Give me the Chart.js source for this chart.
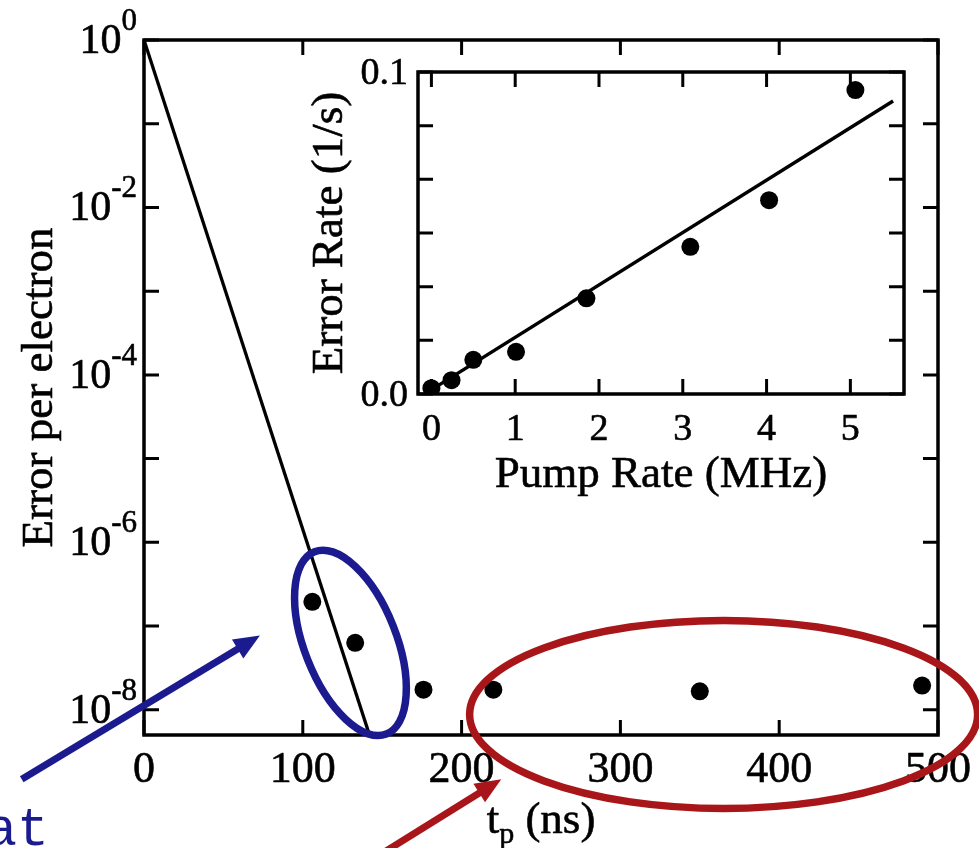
<!DOCTYPE html>
<html>
<head>
<meta charset="utf-8">
<script src="https://cdn.jsdelivr.net/npm/chart.js@4.4.0/dist/chart.umd.min.js"></script>
<style>
  html, body { margin: 0; padding: 0; background: #fff; }
  #wrap { position: relative; width: 979px; height: 848px; overflow: hidden; }
  #wrap canvas { position: absolute; left: 0; top: 0; }
</style>
</head>
<body>
<div id="wrap">
  <canvas id="main" width="979" height="848"></canvas>
  <canvas id="inset" width="979" height="848"></canvas>
</div>
<script>
// main panel: error per electron vs pump time t_p
const pumpTimes = [106, 133, 176, 220, 350, 490];
const errorPerElectron = [1.95e-7, 6.3e-8, 1.74e-8, 1.74e-8, 1.66e-8, 1.95e-8];
const fitTimes = [0, 142];
const fitErrors = [1, 5e-9];
const timeTicks = [0, 100, 200, 300, 400, 500];
const decadeTicks = [0, -1, -2, -3, -4, -5, -6, -7, -8];
const decadeLabels = ['0', '', '-2', '', '-4', '', '-6', '', '-8'];

// inset: error rate vs pump rate
const pumpRates = [0.0, 0.24, 0.5, 1.01, 1.85, 3.09, 4.03, 5.06];
const errorRates = [0.0018, 0.0043, 0.0106, 0.0131, 0.0297, 0.0457, 0.0602, 0.0944];
const rateFitX = [-0.05, 5.51];
const rateFitY = [0.0005, 0.091];
const rateTicks = [0, 1, 2, 3, 4, 5];
const errRateTicks = [0, 1 / 60, 2 / 60, 3 / 60, 4 / 60, 5 / 60, 0.1];
const errRateLabels = ['0.0', '', '', '', '', '', '0.1'];

const SERIF = '"Liberation Serif", "Times New Roman", serif';
const BLUE = '#1b1b8f';
const RED = '#a8161a';

const toXY = (xs, ys) => xs.map((v, i) => ({ x: v, y: ys[i] }));

// scanned print looks a touch heavier than plain canvas text
function ink(ctx, txt, x, y) {
  ctx.fillText(txt, x, y);
  ctx.strokeText(txt, x, y);
}

// draws box, inward ticks on all four sides, tick labels and titles
function drawFrame(chart, o) {
  const { ctx, chartArea: a } = chart;
  const x = chart.scales.x, y = chart.scales.y;
  ctx.save();
  ctx.strokeStyle = '#000';
  ctx.fillStyle = '#000';
  ctx.lineWidth = o.tickWidth;
  ctx.beginPath();
  o.xTicks.forEach(v => {
    const px = x.getPixelForValue(v);
    ctx.moveTo(px, a.bottom); ctx.lineTo(px, a.bottom - o.tickLen);
    ctx.moveTo(px, a.top); ctx.lineTo(px, a.top + o.tickLen);
  });
  o.yTicks.forEach(v => {
    const py = y.getPixelForValue(v);
    ctx.moveTo(a.left, py); ctx.lineTo(a.left + o.tickLen, py);
    ctx.moveTo(a.right, py); ctx.lineTo(a.right - o.tickLen, py);
  });
  ctx.stroke();
  ctx.lineWidth = o.border;
  ctx.strokeRect(a.left, a.top, a.right - a.left, a.bottom - a.top);

  ctx.lineWidth = 0.6;
  ctx.lineJoin = 'round';
  // x tick labels
  ctx.font = o.labelSize + 'px ' + SERIF;
  ctx.textAlign = 'center';
  ctx.textBaseline = 'alphabetic';
  o.xTicks.forEach(v => {
    ink(ctx, String(v), x.getPixelForValue(v), a.bottom + o.xLabelGap);
  });
  o.drawYLabels(ctx, a, y);

  // y title
  ctx.save();
  ctx.translate(o.yTitleX, (a.top + a.bottom) / 2);
  ctx.rotate(-Math.PI / 2);
  ctx.font = '45px ' + SERIF;
  ctx.textAlign = 'center';
  ink(ctx, o.yTitle, 0, 0);
  ctx.restore();
  o.drawXTitle(ctx, a);
  ctx.restore();
}

// annotations in data units of the main panel
const rings = [
  { x: 130, y: 6.3e-8, rx: 98, ry: 46, rot: 68.5, color: BLUE },
  { x: 365, y: 8.8e-9, rx: 254, ry: 94, rot: 0, color: RED }
];
const arrows = [
  { from: [-77, 1.48e-9], to: [73, 7.7e-8], color: BLUE },
  { from: [142, 1.55e-10], to: [225, 1.48e-9], color: RED }
];

const mainPlugin = {
  id: 'mainFrame',
  afterDraw(chart) {
    drawFrame(chart, {
      xTicks: timeTicks,
      yTicks: decadeTicks.map(p => Math.pow(10, p)),
      tickLen: 15, tickWidth: 3, border: 3.5,
      labelSize: 44, xLabelGap: 47,
      yTitle: 'Error per electron', yTitleX: 52,
      drawYLabels(ctx, a, y) {
        ctx.textAlign = 'right';
        decadeTicks.forEach((p, i) => {
          const lab = decadeLabels[i];
          if (!lab) return;
          const py = y.getPixelForValue(Math.pow(10, p));
          const right = a.left - 7;
          ctx.font = '31px ' + SERIF;
          ink(ctx, lab, right, py - 10);
          const w = ctx.measureText(lab).width;
          ctx.font = '42px ' + SERIF;
          ink(ctx, '10', right - w, py + 13);
        });
      },
      drawXTitle(ctx, a) {
        const cx = (a.left + a.right) / 2, base = 833;
        ctx.textAlign = 'left';
        ctx.font = '45px ' + SERIF;
        const wt = ctx.measureText('t').width;
        const wr = ctx.measureText(' (ns)').width;
        ctx.font = '30px ' + SERIF;
        const wp = ctx.measureText('p').width;
        let x0 = cx - (wt + wp + wr) / 2;
        ctx.font = '45px ' + SERIF;
        ink(ctx, 't', x0, base);
        ctx.font = '30px ' + SERIF;
        ink(ctx, 'p', x0 + wt, base + 10);
        ctx.font = '45px ' + SERIF;
        ink(ctx, ' (ns)', x0 + wt + wp, base);
      }
    });

    const { ctx } = chart;
    const x = chart.scales.x, y = chart.scales.y;
    ctx.save();
    rings.forEach(r => {
      ctx.strokeStyle = r.color;
      ctx.lineWidth = 7.5;
      ctx.beginPath();
      ctx.ellipse(x.getPixelForValue(r.x), y.getPixelForValue(r.y), r.rx, r.ry, r.rot * Math.PI / 180, 0, Math.PI * 2);
      ctx.stroke();
    });
    arrows.forEach(ar => {
      const x1 = x.getPixelForValue(ar.from[0]), y1 = y.getPixelForValue(ar.from[1]);
      const x2 = x.getPixelForValue(ar.to[0]), y2 = y.getPixelForValue(ar.to[1]);
      const ang = Math.atan2(y2 - y1, x2 - x1);
      const head = 26, half = 11;
      const bx = x2 - head * Math.cos(ang), by = y2 - head * Math.sin(ang);
      ctx.strokeStyle = ar.color;
      ctx.fillStyle = ar.color;
      ctx.lineWidth = 7;
      ctx.beginPath();
      ctx.moveTo(x1, y1); ctx.lineTo(bx + 2 * Math.cos(ang), by + 2 * Math.sin(ang));
      ctx.stroke();
      ctx.beginPath();
      ctx.moveTo(x2, y2);
      ctx.lineTo(bx + half * Math.sin(ang), by - half * Math.cos(ang));
      ctx.lineTo(bx - half * Math.sin(ang), by + half * Math.cos(ang));
      ctx.closePath();
      ctx.fill();
    });
    // leftover word of the slide caption, cut by the left edge
    ctx.fillStyle = BLUE;
    ctx.font = '53px "Liberation Mono", "DejaVu Sans Mono", monospace';
    ctx.textAlign = 'left';
    ctx.textBaseline = 'alphabetic';
    ctx.fillText('at', x.getPixelForValue(-100), y.getPixelForValue(2.4e-10));
    ctx.restore();
  }
};

const insetPlugin = {
  id: 'insetFrame',
  afterDraw(chart) {
    drawFrame(chart, {
      xTicks: rateTicks,
      yTicks: errRateTicks,
      tickLen: 15, tickWidth: 3, border: 3.5,
      labelSize: 38, xLabelGap: 46,
      yTitle: 'Error Rate (1/s)', yTitleX: 342,
      drawYLabels(ctx, a, y) {
        ctx.textAlign = 'right';
        ctx.font = '38px ' + SERIF;
        errRateTicks.forEach((v, i) => {
          if (!errRateLabels[i]) return;
          ink(ctx, errRateLabels[i], a.left - 10, y.getPixelForValue(v) + 12);
        });
      },
      drawXTitle(ctx, a) {
        ctx.textAlign = 'center';
        ctx.font = '45px ' + SERIF;
        ink(ctx, 'Pump Rate (MHz)', (a.left + a.right) / 2, 487);
      }
    });
  }
};

const common = {
  responsive: false,
  animation: false,
  devicePixelRatio: 1,
  events: [],
  plugins: { legend: { display: false }, tooltip: { enabled: false } }
};

new Chart(document.getElementById('main'), {
  type: 'scatter',
  data: {
    datasets: [
      {
        data: toXY(fitTimes, fitErrors),
        showLine: true, pointRadius: 0, borderColor: '#000', borderWidth: 3.3
      },
      {
        data: toXY(pumpTimes, errorPerElectron),
        pointRadius: 9, backgroundColor: '#000', borderWidth: 0
      }
    ]
  },
  options: {
    ...common,
    layout: { padding: { left: 144, top: 40, right: 41, bottom: 113 } },
    scales: {
      x: { type: 'linear', min: 0, max: 500, display: false },
      y: { type: 'logarithmic', min: 5e-9, max: 1, display: false }
    }
  },
  plugins: [mainPlugin]
});

new Chart(document.getElementById('inset'), {
  type: 'scatter',
  data: {
    datasets: [
      {
        data: toXY(rateFitX, rateFitY),
        showLine: true, pointRadius: 0, borderColor: '#000', borderWidth: 3.5
      },
      {
        data: toXY(pumpRates, errorRates),
        pointRadius: 9, backgroundColor: '#000', borderWidth: 0
      }
    ]
  },
  options: {
    ...common,
    layout: { padding: { left: 418, top: 72, right: 75, bottom: 454 } },
    scales: {
      x: { type: 'linear', min: -0.16, max: 5.64, display: false },
      y: { type: 'linear', min: 0, max: 0.1, display: false }
    }
  },
  plugins: [insetPlugin]
});
</script>
</body>
</html>
